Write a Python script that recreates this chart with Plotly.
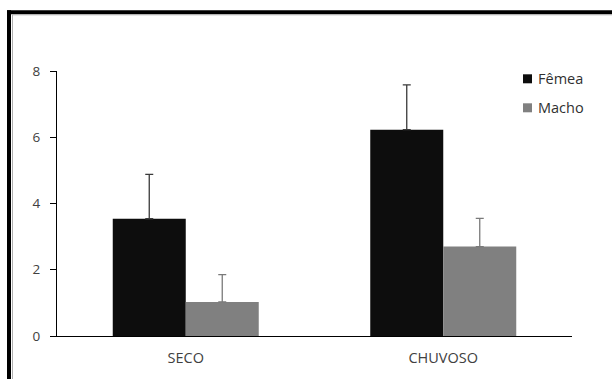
import plotly.graph_objects as go

# Season categories and mean counts per sex, with standard deviations
categories = ["SECO", "CHUVOSO"]
series_names = ["Fêmea", "Macho"]
femea = [3.54, 6.23]
femea_err = [1.34, 1.35]
macho = [1.03, 2.70]
macho_err = [0.82, 0.85]
y_ticks = [0, 2, 4, 6, 8]
colors = ["#0d0d0d", "#808080"]
err_colors = ["#3a3a3a", "#7a7a7a"]

W, H = 612, 379
L, R, T, B = 57, 40, 70.7, 43.3
pw, ph = W - L - R, H - T - B


def px_x(x):
    return (x - L) / pw


def px_y(y):
    return (H - B - y) / ph


fig = go.Figure()
for name, vals, errs, col, ecol in zip(series_names, [femea, macho], [femea_err, macho_err],
                                       colors, err_colors):
    fig.add_trace(go.Bar(
        name=name, x=categories, y=vals, showlegend=False,
        marker=dict(color=col, line=dict(width=0)),
        error_y=dict(type="data", array=errs, symmetric=False, arrayminus=[0, 0],
                     color=ecol, thickness=1.3, width=4),
    ))

# Outer frame: thick black rule on top and left, thin grey inner rule
frame = [
    dict(x0=px_x(9), x1=px_x(9), y0=px_y(10), y1=px_y(H + 5), w=4, c="black"),
    dict(x0=px_x(7), x1=px_x(W + 5), y0=px_y(12), y1=px_y(12), w=4, c="black"),
    dict(x0=px_x(12.5), x1=px_x(12.5), y0=px_y(14), y1=px_y(H + 5), w=1, c="#b0b0b0"),
    dict(x0=px_x(12), x1=px_x(W + 5), y0=px_y(14.5), y1=px_y(14.5), w=1, c="#b0b0b0"),
]
for f in frame:
    fig.add_shape(type="line", xref="paper", yref="paper",
                  x0=f["x0"], x1=f["x1"], y0=f["y0"], y1=f["y1"],
                  line=dict(color=f["c"], width=f["w"]), layer="above")

# Legend: small square swatches with labels, top right
for i, (name, col) in enumerate(zip(series_names, colors)):
    cy = 78.5 + i * 29
    fig.add_shape(type="rect", xref="paper", yref="paper",
                  x0=px_x(523), x1=px_x(532), y0=px_y(cy + 4.5), y1=px_y(cy - 4.5),
                  fillcolor=col, line=dict(width=0))
    fig.add_annotation(xref="paper", yref="paper", x=px_x(535.5), y=px_y(cy),
                       text=name, showarrow=False, xanchor="left", yanchor="middle",
                       font=dict(size=14.5, color="#303030"))

fig.update_layout(
    width=W, height=H,
    margin=dict(l=L, r=R, t=T, b=B, pad=0),
    paper_bgcolor="white", plot_bgcolor="white",
    barmode="group", bargap=0.433, bargroupgap=0,
    font=dict(family="'Open Sans', sans-serif", size=13, color="#404040"),
    showlegend=False,
    xaxis=dict(showline=True, linecolor="black", linewidth=1.3,
               ticks="outside", ticklen=8, tickcolor="rgba(0,0,0,0)",
               tickfont=dict(size=14.5),
               showgrid=False, zeroline=False, fixedrange=True),
    yaxis=dict(range=[0, 8], tickvals=y_ticks, showline=True, linecolor="black",
               linewidth=1.3, ticks="outside", ticklen=6, tickcolor="black",
               ticklabelstandoff=7, tickfont=dict(size=13.5),
               showgrid=False, zeroline=False),
)

fig.write_html("out.html")
